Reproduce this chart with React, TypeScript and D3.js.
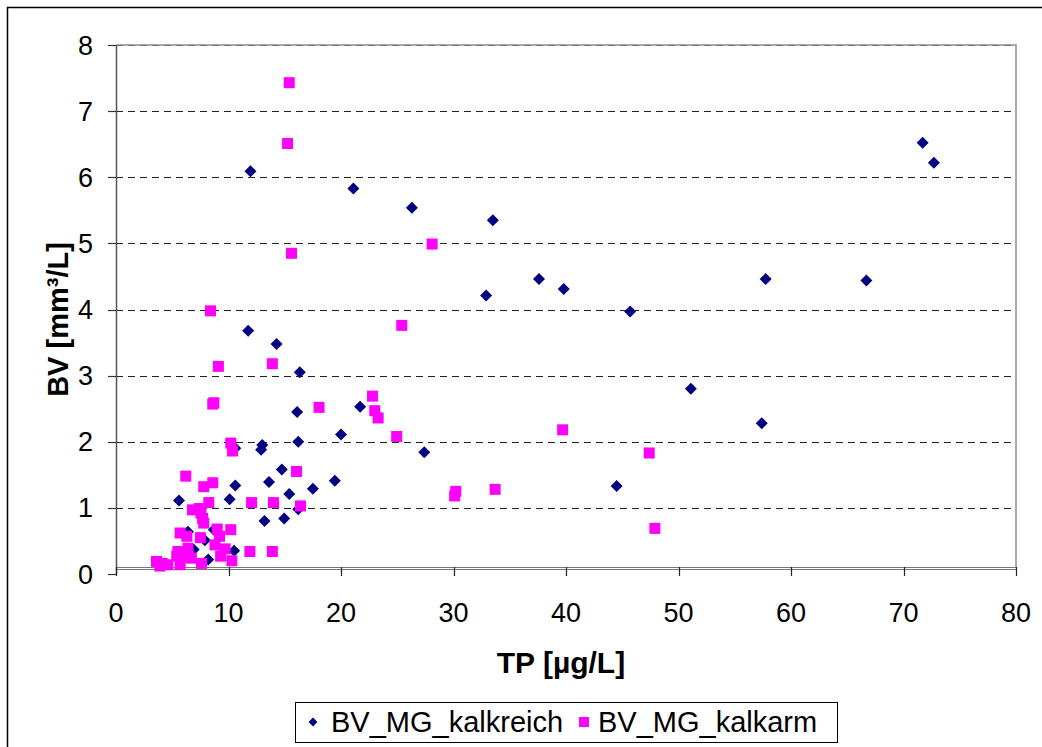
import React from 'react';
import * as d3 from 'd3';

type Pt = { tp: number; bv: number };

const xTicks = [0, 10, 20, 30, 40, 50, 60, 70, 80];
const yTicks = [0, 1, 2, 3, 4, 5, 6, 7, 8];

const seriesNames = ['BV_MG_kalkreich', 'BV_MG_kalkarm'];

// BV_MG_kalkreich (TP, BV)
const kalkreichTP = [
  11.95, 21.1, 26.3, 33.5, 37.6, 39.8, 32.9, 45.7, 11.75, 14.27, 16.34, 51.1, 57.4, 71.7, 72.7,
  57.75, 66.7, 44.5, 27.4, 16.1, 21.7, 20.0, 16.2, 13.0, 12.9, 10.6, 14.74, 13.6, 19.45, 15.4,
  17.5, 16.2, 13.2, 14.95, 10.6, 5.6, 10.1, 6.4, 8.7, 7.9, 6.9, 10.5, 8.2,
];
const kalkreichBV = [
  6.09, 5.83, 5.54, 5.35, 4.46, 4.31, 4.21, 3.97, 3.68, 3.48, 3.05, 2.8, 2.28, 6.52, 6.22,
  4.46, 4.44, 1.33, 1.84, 2.45, 2.53, 2.11, 2.0, 1.95, 1.88, 1.9, 1.58, 1.39, 1.41, 1.21,
  1.29, 0.98, 0.8, 0.84, 1.34, 1.11, 1.13, 0.64, 0.67, 0.51, 0.37, 0.35, 0.22,
];

// BV_MG_kalkarm (TP, BV)
const kalkarmTP = [
  15.4, 15.25, 15.6, 28.1, 8.4, 25.4, 9.1, 13.9, 8.7, 8.6, 18.05, 22.8, 23.0, 23.3, 24.95,
  39.7, 47.4, 10.2, 10.36, 16.05, 30.2, 30.1, 33.7, 47.9, 12.05, 14.0, 16.4, 11.9, 13.9, 6.2,
  7.8, 8.6, 8.25, 6.8, 7.4, 7.55, 7.7, 7.8, 5.7, 6.3, 9.0, 9.2, 10.2, 7.5, 8.8,
  9.7, 9.3, 10.3, 6.4, 5.5, 5.4, 6.1, 6.7, 5.7, 7.6, 3.6, 4.1, 4.6, 3.9,
];
const kalkarmBV = [
  7.43, 6.51, 4.85, 4.99, 3.98, 3.76, 3.14, 3.18, 2.59, 2.57, 2.52, 2.69, 2.47, 2.36, 2.08,
  2.18, 1.83, 1.98, 1.86, 1.55, 1.25, 1.18, 1.28, 0.69, 1.08, 1.08, 1.03, 0.34, 0.34, 1.48,
  1.32, 1.38, 1.08, 0.97, 0.99, 0.92, 0.84, 0.77, 0.62, 0.57, 0.68, 0.57, 0.67, 0.55, 0.44,
  0.38, 0.27, 0.2, 0.39, 0.34, 0.27, 0.27, 0.24, 0.14, 0.16, 0.19, 0.16, 0.14, 0.12,
];

const W = 1042;
const H = 747;
const margin = { left: 116, right: 1016, top: 45, bottom: 574 };
const font = '"Liberation Sans", Arial, sans-serif';

const App: React.FC = () => {
  const ref = React.useRef<SVGSVGElement>(null);

  React.useEffect(() => {
    const svg = d3.select(ref.current);
    svg.selectAll('*').remove();

    const x = d3.scaleLinear().domain([0, 80]).range([margin.left, margin.right]);
    const y = d3.scaleLinear().domain([0, 8]).range([margin.bottom, margin.top]);

    const reich: Pt[] = kalkreichTP.map((t, i) => ({ tp: t, bv: kalkreichBV[i] }));
    const arm: Pt[] = kalkarmTP.map((t, i) => ({ tp: t, bv: kalkarmBV[i] }));

    // chart border
    svg
      .append('rect')
      .attr('x', 7.5)
      .attr('y', 7.5)
      .attr('width', 1100)
      .attr('height', 800)
      .attr('fill', 'white')
      .attr('stroke', '#000')
      .attr('stroke-width', 1.5);

    // plot area frame (top & right)
    svg
      .append('path')
      .attr('d', `M${margin.left},${y(8)}H${margin.right}V${y(0.1)}`)
      .attr('fill', 'none')
      .attr('stroke', '#909090')
      .attr('stroke-width', 1.5);

    // gridlines
    svg
      .append('g')
      .selectAll('line')
      .data(yTicks.filter((d) => d > 0))
      .enter()
      .append('line')
      .attr('x1', margin.left)
      .attr('x2', margin.right)
      .attr('y1', (d) => Math.round(y(d)) + 0.5)
      .attr('y2', (d) => Math.round(y(d)) + 0.5)
      .attr('stroke', (d) => (d === 8 ? '#707070' : '#222'))
      .attr('stroke-width', 1.2)
      .attr('stroke-dasharray', '7,5');

    // y axis
    svg
      .append('line')
      .attr('x1', margin.left + 0.5)
      .attr('x2', margin.left + 0.5)
      .attr('y1', y(8))
      .attr('y2', y(0))
      .attr('stroke', '#555')
      .attr('stroke-width', 1.5);

    svg
      .append('g')
      .selectAll('line')
      .data(yTicks)
      .enter()
      .append('line')
      .attr('x1', margin.left - 8)
      .attr('x2', margin.left)
      .attr('y1', (d) => Math.round(y(d)) + 0.5)
      .attr('y2', (d) => Math.round(y(d)) + 0.5)
      .attr('stroke', '#333')
      .attr('stroke-width', 1.2);

    svg
      .append('g')
      .selectAll('text')
      .data(yTicks)
      .enter()
      .append('text')
      .attr('x', 93)
      .attr('y', (d) => y(d) + 9.5)
      .attr('text-anchor', 'end')
      .attr('font-family', font)
      .attr('font-size', 27)
      .text((d) => d);

    // x axis (crosses at 0.1)
    const xa = Math.round(y(0.1));
    [xa + 0.5, xa + 2.5].forEach((yy) => {
      svg
        .append('line')
        .attr('x1', margin.left)
        .attr('x2', margin.right)
        .attr('y1', yy)
        .attr('y2', yy)
        .attr('stroke', '#777')
        .attr('stroke-width', 1.2);
    });

    svg
      .append('g')
      .selectAll('line')
      .data(xTicks)
      .enter()
      .append('line')
      .attr('x1', (d) => Math.round(x(d)) + 0.5)
      .attr('x2', (d) => Math.round(x(d)) + 0.5)
      .attr('y1', xa)
      .attr('y2', xa + 9)
      .attr('stroke', '#222')
      .attr('stroke-width', 1.2);

    svg
      .append('g')
      .selectAll('text')
      .data(xTicks)
      .enter()
      .append('text')
      .attr('x', (d) => x(d))
      .attr('y', 622)
      .attr('text-anchor', 'middle')
      .attr('font-family', font)
      .attr('font-size', 27)
      .text((d) => d);

    // axis titles
    svg
      .append('text')
      .attr('x', 561)
      .attr('y', 673)
      .attr('text-anchor', 'middle')
      .attr('font-family', font)
      .attr('font-size', 30)
      .attr('font-weight', 'bold')
      .text('TP [µg/L]');

    svg
      .append('text')
      .attr('transform', `translate(68,${(margin.top + margin.bottom) / 2 + 10}) rotate(-90)`)
      .attr('text-anchor', 'middle')
      .attr('font-family', font)
      .attr('font-size', 29)
      .attr('font-weight', 'bold')
      .text('BV [mm³/L]');

    const diamond = d3.symbol().type(d3.symbolDiamond2).size(92);

    // kalkreich: navy diamonds
    svg
      .append('g')
      .selectAll('path')
      .data(reich)
      .enter()
      .append('path')
      .attr('d', diamond)
      .attr('transform', (d) => `translate(${x(d.tp)},${y(d.bv)})`)
      .attr('fill', '#000080');

    // kalkarm: magenta squares
    svg
      .append('g')
      .selectAll('rect')
      .data(arm)
      .enter()
      .append('rect')
      .attr('x', (d) => x(d.tp) - 5.5)
      .attr('y', (d) => y(d.bv) - 5.5)
      .attr('width', 11)
      .attr('height', 11)
      .attr('fill', '#ff00ff');

    // legend
    const lg = svg.append('g');
    lg.append('rect')
      .attr('x', 295.5)
      .attr('y', 702.5)
      .attr('width', 542)
      .attr('height', 40)
      .attr('fill', 'white')
      .attr('stroke', '#000')
      .attr('stroke-width', 1);

    lg.append('path')
      .attr('d', d3.symbol().type(d3.symbolDiamond2).size(50)())
      .attr('transform', 'translate(313,722)')
      .attr('fill', '#000080');
    lg.append('text')
      .attr('x', 331)
      .attr('y', 732)
      .attr('font-family', font)
      .attr('font-size', 29)
      .text(seriesNames[0]);

    lg.append('rect')
      .attr('x', 579)
      .attr('y', 717)
      .attr('width', 10)
      .attr('height', 10)
      .attr('fill', '#ff00ff');
    lg.append('text')
      .attr('x', 598)
      .attr('y', 732)
      .attr('font-family', font)
      .attr('font-size', 29)
      .text(seriesNames[1]);
  }, []);

  return (
    <svg
      ref={ref}
      width={W}
      height={H}
      style={{ position: 'absolute', left: 0, top: 0, background: 'white' }}
    />
  );
};

export default App;
